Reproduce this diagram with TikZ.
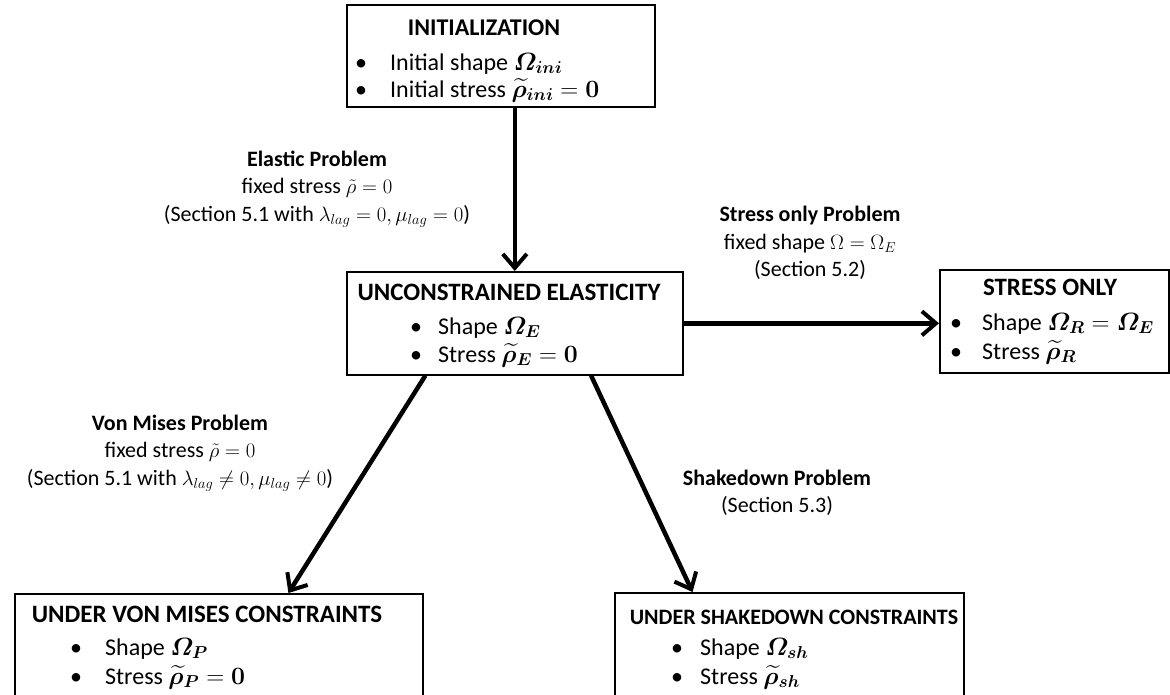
\documentclass[tikz,border=0pt]{standalone}
\usepackage{amsmath}
\usepackage{bm}
\usepackage[no-math]{fontspec}
\setmainfont{Carlito}
\usetikzlibrary{arrows.meta,calc}

\tikzset{
    box/.style={draw, line width=1.6pt, rectangle, anchor=north west, inner sep=0pt},
    flow/.style={line width=4.5pt, -{Straight Barb[length=14pt,width=24pt,line width=4pt]}},
    title/.style={font=\fontsize{25}{29}\selectfont\bfseries, anchor=base, inner sep=0pt},
    item/.style={font=\fontsize{24}{29}\selectfont, anchor=base west, inner sep=0pt},
    lbl/.style={font=\fontsize{22}{27.5}\selectfont, align=center, anchor=center, inner sep=0pt}
}
\newcommand{\itm}[2][35pt]{\makebox[#1][l]{\textbullet}#2}

\begin{document}
\begin{tikzpicture}[x=1pt,y=-1pt]
        \useasboundingbox (0,0) rectangle (1170,694);

        \node[box, minimum width=308pt, minimum height=102pt] (init) at (346,4) {};
        \node[title, font=\fontsize{24}{29}\selectfont\bfseries] (initT) at (484,35) {INITIALIZATION};
        \node[item] (initA) at (355,70) {\itm{Initial shape $\bm{\varOmega_{ini}}$}};
        \node[item] (initB) at (355,97) {\itm{Initial stress $\widetilde{\bm{\rho}}_{\bm{ini}}=\bm{0}$}};

        \node[box, minimum width=336pt, minimum height=103pt] (uncon) at (346,271) {};
        \node[title] (unconT) at (509,300) {UNCONSTRAINED ELASTICITY};
        \node[item] (unconA) at (410,334) {\itm[28pt]{Shape $\bm{\varOmega_{E}}$}};
        \node[item] (unconB) at (410,362) {\itm[28pt]{Stress $\widetilde{\bm{\rho}}_{\bm{E}}=\bm{0}$}};

        \node[box, minimum width=229pt, minimum height=103pt] (stress) at (939,269) {};
        \node[title] (stressT) at (1050,295) {STRESS ONLY};
        \node[item] (stressA) at (950,330) {\itm[32pt]{Shape $\bm{\varOmega_{R}}=\bm{\varOmega_{E}}$}};
        \node[item] (stressB) at (950,359) {\itm[32pt]{Stress $\widetilde{\bm{\rho}}_{\bm{R}}$}};

        \node[box, minimum width=408pt, minimum height=120pt] (vm) at (14,593) {};
        \node[title] (vmT) at (207,622) {UNDER VON MISES CONSTRAINTS};
        \node[item] (vmA) at (70,655) {\itm{Shape $\bm{\varOmega_{P}}$}};
        \node[item] (vmB) at (70,684) {\itm{Stress $\widetilde{\bm{\rho}}_{\bm{P}}=\bm{0}$}};

        \node[box, minimum width=349pt, minimum height=120pt] (sd) at (614,592) {};
        \node[title, font=\fontsize{22}{27}\selectfont\bfseries] (sdT) at (794,624) {UNDER SHAKEDOWN CONSTRAINTS};
        \node[item] (sdA) at (671,655) {\itm[29pt]{Shape $\bm{\varOmega_{sh}}$}};
        \node[item] (sdB) at (671,684) {\itm[29pt]{Stress $\widetilde{\bm{\rho}}_{\bm{sh}}$}};

        \node[lbl] (elastic) at (317,189) {\textbf{Elastic Problem}\\ fixed stress $\tilde{\rho}=0$\\ (Section 5.1 with $\lambda_{lag}=0,\mu_{lag}=0$)};
        \node[lbl] (stressonly) at (810,243) {\textbf{Stress only Problem}\\ fixed shape $\Omega=\Omega_E$\\ (Section 5.2)};
        \node[lbl] (vonmises) at (180,453) {\textbf{Von Mises Problem}\\ fixed stress $\tilde{\rho}=0$\\ (Section 5.1 with $\lambda_{lag}\neq 0,\mu_{lag}\neq 0$)};
        \node[lbl] (shakedown) at (777,493) {\textbf{Shakedown Problem}\\ (Section 5.3)};

        \draw[flow] (init.south -| uncon.north) -- (uncon.north);
        \draw[flow] (uncon.east) -- (uncon.east -| stress.west);
        \draw[flow] ($(uncon.south west)!0.235!(uncon.south east)$) -- ($(vm.north west)!0.67!(vm.north east)$);
        \draw[flow] ($(uncon.south west)!0.726!(uncon.south east)$) -- ($(sd.north west)!0.224!(sd.north east)$);

    \end{tikzpicture}
\end{document}
